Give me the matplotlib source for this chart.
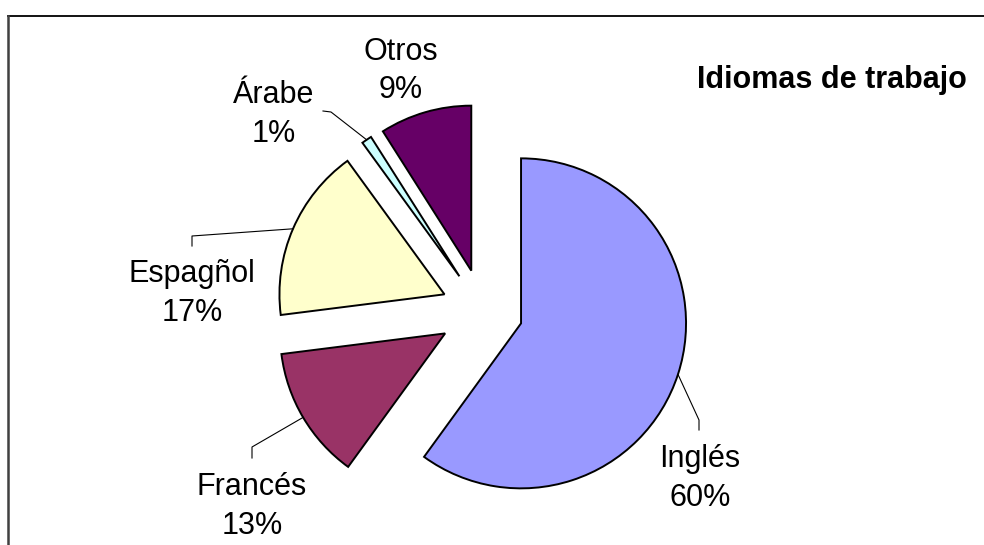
import matplotlib
matplotlib.use("Agg")
import matplotlib.pyplot as plt
import numpy as np

# data
languages = ["Inglés", "Francés", "Espagñol", "Árabe", "Otros"]
shares = [60, 13, 17, 1, 9]
colors = ["#9999FF", "#993366", "#FFFFCC", "#CCFFFF", "#660066"]
title = "Idiomas de trabajo"

# layout, in pixels (y grows downwards)
W, H = 984, 545
pie_center = (483, 311)
pie_radius = 165
explode = [40, 44, 42, 42, 42]

# label x, baseline of the name, baseline of the percentage
label_pos = {
    "Inglés": (700, 467, 506),
    "Francés": (252, 495, 534),
    "Espagñol": (192, 282, 321),
    "Árabe": (274, 103, 142),
    "Otros": (401, 60, 98),
}
# leader lines: points after the anchor on the arc
leaders = {
    "Inglés": [(699, 420), (699, 430)],
    "Francés": [(252, 447), (252, 458)],
    "Espagñol": [(192, 236), (192, 246)],
    "Árabe": [(331, 112), (323, 111)],
}

plt.rcParams["font.family"] = ["Liberation Sans", "DejaVu Sans"]

fig = plt.figure(figsize=(W / 100, H / 100), dpi=100)
ax = fig.add_axes([0, 0, 1, 1])

wedges, _ = ax.pie(
    shares,
    colors=colors,
    explode=explode,
    center=pie_center,
    radius=pie_radius,
    startangle=-90,
    counterclock=True,
    wedgeprops=dict(edgecolor="black", linewidth=1.4),
)
ax.set_xlim(0, W)
ax.set_ylim(H, 0)
ax.axis("off")

for w, name, pct in zip(wedges, languages, shares):
    x, y1, y2 = label_pos[name]
    ax.text(x, y1, name, ha="center", va="baseline", fontsize=22)
    ax.text(x, y2, f"{pct}%", ha="center", va="baseline", fontsize=22)
    if name in leaders:
        tm = np.deg2rad((w.theta1 + w.theta2) / 2)
        cx, cy = w.center
        pts = [(cx + w.r * np.cos(tm), cy + w.r * np.sin(tm))] + leaders[name]
        xs, ys = zip(*pts)
        ax.plot(xs, ys, color="black", lw=0.8)

ax.text(967, 88, title, ha="right", va="baseline", fontsize=22, fontweight="bold")

# chart area border (cropped on the right and bottom)
ax.plot([8, W + 5], [16, 16], color="black", lw=1.3)
ax.plot([8, 8], [16, H + 5], color="#404040", lw=1.8)

fig.savefig("out.png", dpi=100)
